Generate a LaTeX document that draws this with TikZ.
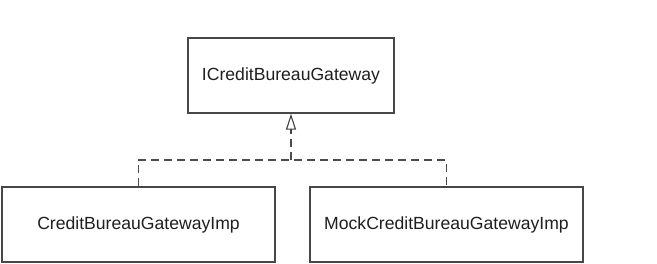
\documentclass[tikz,border=0pt]{standalone}
\usepackage{fontspec}
\setmainfont{Liberation Sans}
\usetikzlibrary{arrows.meta}
\begin{document}
\begin{tikzpicture}[x=1pt,y=-1pt,
  classbox/.style={draw=black!72, line width=1.3pt, fill=white, inner sep=0pt,
    minimum height=75pt, text=black!88,
    font=\fontsize{17.6pt}{20pt}\selectfont},
  realize/.style={draw=black!70, line width=1.1pt, dash pattern=on 8pt off 5pt},
  gen/.style={draw=black!75, line width=1.1pt, -{Triangle[open, length=16pt, width=10pt, line width=1.1pt]}}
]
\useasboundingbox (0,0) rectangle (657,263);
\node[classbox, minimum width=206pt] (top) at (291,75.5) {ICreditBureauGateway};
\node[classbox, minimum width=273pt] (left) at (138.5,224.5) {CreditBureauGatewayImp};
\node[classbox, minimum width=273pt] (right) at (446.5,224.5) {MockCreditBureauGatewayImp};
\coordinate (j) at (291,160);
\coordinate (tb) at (291,133);
\draw[realize] (left.north) |- (j) -| (right.north);
\draw[realize] (j) -- (tb);
\draw[gen, solid] (tb) -- (top.south);
\end{tikzpicture}
\end{document}
